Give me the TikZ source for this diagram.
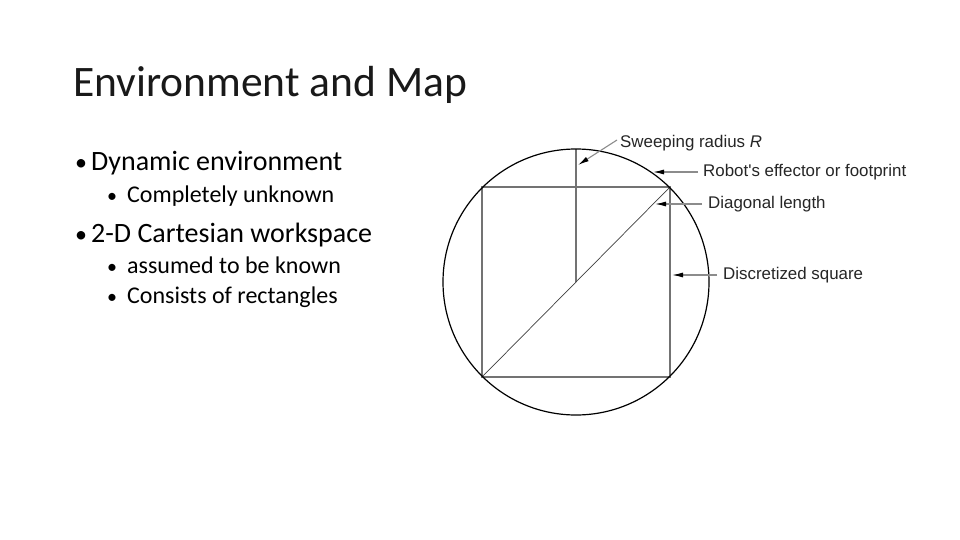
\documentclass[tikz,border=0pt]{standalone}
\usepackage{fontspec}
\setmainfont{Carlito}
\newfontfamily\labelfont{Liberation Sans}
\usetikzlibrary{arrows.meta}
\begin{document}
\begin{tikzpicture}[x=1pt,y=-1pt,
  title/.style={anchor=base west,inner sep=0,text=black!90,font=\fontsize{43.5}{50}\selectfont},
  lvlone/.style={anchor=base west,inner sep=0,font=\fontsize{28}{32}\selectfont},
  lvltwo/.style={anchor=base west,inner sep=0,font=\fontsize{24}{28}\selectfont},
  bul/.style={anchor=base west,inner sep=0},
  lab/.style={anchor=west,inner sep=0,text=black!85,font=\labelfont\fontsize{16.9}{19}\selectfont},
  ptr/.style={draw=black!45,line width=1.1pt,-{Latex[length=11pt,width=5pt,black]}},
  sq/.style={draw=black!55,line width=1.4pt}]
\useasboundingbox (0,0) rectangle (960,540);
\fill[white] (0,0) rectangle (960,540);
% title and bullets
\node[title] (t) at (73,97) {Environment and Map};
\node[bul,font=\fontsize{24}{28}\selectfont] (d1) at (75,171) {•};
\node[lvlone] (b1) at (91,171) {Dynamic environment};
\node[bul,font=\fontsize{20}{24}\selectfont] (d11) at (107,202) {•};
\node[lvltwo] (b11) at (127,202) {Completely unknown};
\node[bul,font=\fontsize{24}{28}\selectfont] (d2) at (75,242) {•};
\node[lvlone] (b2) at (91,242) {2-D Cartesian workspace};
\node[bul,font=\fontsize{20}{24}\selectfont] (d21) at (107,273) {•};
\node[lvltwo] (b21) at (127,273) {assumed to be known};
\node[bul,font=\fontsize{20}{24}\selectfont] (d22) at (107,303) {•};
\node[lvltwo] (b22) at (127,303) {Consists of rectangles};
% diagram
\coordinate (c) at (576,282);
\coordinate (bl) at (482,377);
\coordinate (br) at (670,377);
\coordinate (tl) at (482,187);
\coordinate (tr) at (670,187);
\coordinate (top) at (576,149);
\draw[sq] (bl) -- (br) -- (tr) -- (tl) -- cycle;
\draw[sq] (c) -- (top);
\draw[black!75,line width=0.7pt] (bl) -- (tr);
\draw[black,line width=1.2pt] (c) circle[radius=133];
% labels
\node[lab] (l1) at (620,143) {Sweeping radius \textit{R}};
\node[lab] (l2) at (703,172) {Robot's effector or footprint};
\node[lab] (l3) at (708,204) {Diagonal length};
\node[lab] (l4) at (723,275) {Discretized square};
\coordinate (a1) at (578,165);
\coordinate (a2) at (653,172);
\coordinate (a3) at (655,204);
\coordinate (a4) at (672,275);
\draw[ptr] ([xshift=-3pt,yshift=3pt]l1.west) -- (a1);
\draw[ptr] ([xshift=-5pt]l2.west) -- (a2);
\draw[ptr] ([xshift=-6pt]l3.west) -- (a3);
\draw[ptr] ([xshift=-6pt]l4.west) -- (a4);
\end{tikzpicture}
\end{document}
